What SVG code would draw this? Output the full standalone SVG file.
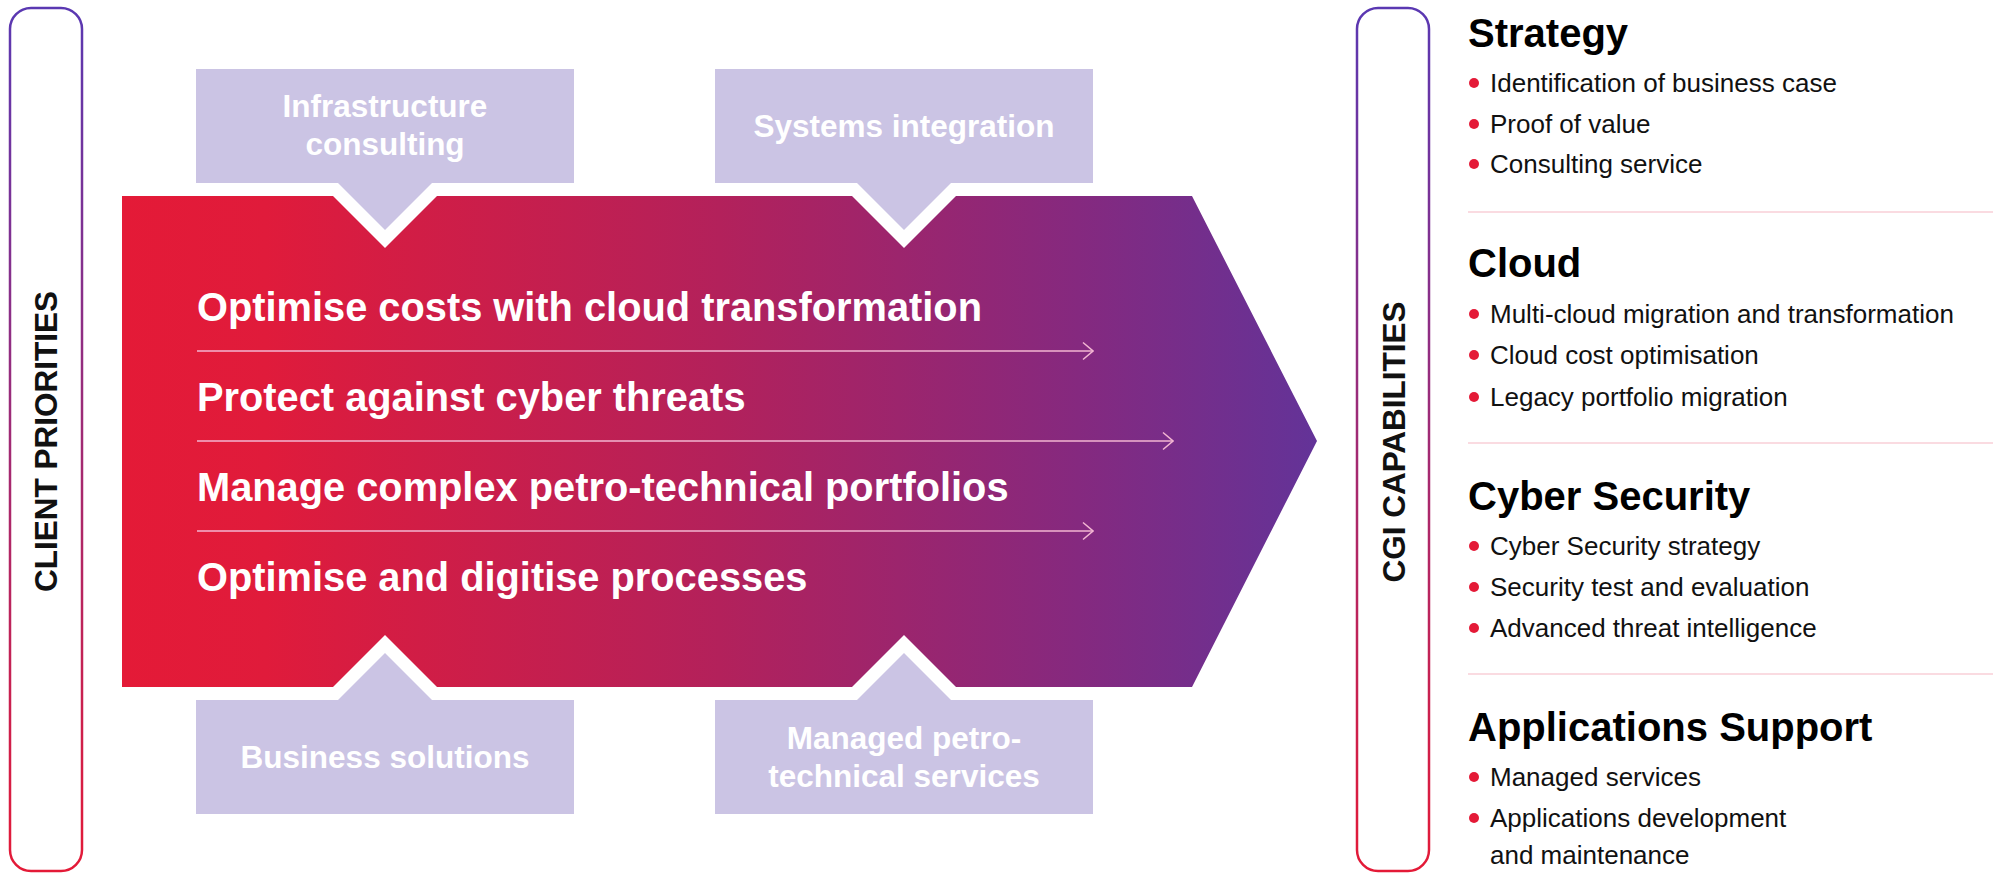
<svg xmlns="http://www.w3.org/2000/svg" width="1993" height="873" viewBox="0 0 1993 873">
  <defs>
    <linearGradient id="mainGrad" gradientUnits="userSpaceOnUse" x1="122" y1="0" x2="1317" y2="0">
      <stop offset="0" stop-color="#e41a37"/>
      <stop offset="0.12" stop-color="#e01b3b"/>
      <stop offset="0.5" stop-color="#b3215b"/>
      <stop offset="0.8" stop-color="#85297f"/>
      <stop offset="1" stop-color="#633398"/>
    </linearGradient>
    <linearGradient id="frameGrad" gradientUnits="userSpaceOnUse" x1="0" y1="8" x2="0" y2="871">
      <stop offset="0" stop-color="#5a38b2"/>
      <stop offset="0.5" stop-color="#a02a74"/>
      <stop offset="1" stop-color="#e41a37"/>
    </linearGradient>
    <marker id="chev" viewBox="0 0 12 20" refX="11" refY="10" markerWidth="12" markerHeight="20" markerUnits="userSpaceOnUse" orient="auto">
      <polyline points="1,1.5 11,10 1,18.5" fill="none" stroke="#f3b6d2" stroke-width="1.5"/>
    </marker>
    <style>
      .frame { fill: none; stroke: url(#frameGrad); stroke-width: 2.5; }
      .vlabel { font-family: "Liberation Sans", Arial, sans-serif; font-weight: bold; font-size: 31.5px; fill: #111; text-anchor: middle; }
      .callout { fill: #cbc4e4; }
      .ctext { font-family: "Liberation Sans", Arial, sans-serif; font-weight: bold; font-size: 31.5px; fill: #ffffff; text-anchor: middle; }
      .prio { font-family: "Liberation Sans", Arial, sans-serif; font-weight: bold; font-size: 39.8px; fill: #ffffff; }
      .flow { fill: none; stroke: #f3b6d2; stroke-width: 1.5; marker-end: url(#chev); }
      .head { font-family: "Liberation Sans", Arial, sans-serif; font-weight: bold; font-size: 40px; fill: #000; }
      .item { font-family: "Liberation Sans", Arial, sans-serif; font-size: 26px; fill: #111; }
      .dot { fill: #e41a37; }
      .divider { stroke: #fadbe1; stroke-width: 2; }
    </style>
  </defs>

  <g id="client-priorities">
    <rect class="frame" x="10" y="8" width="72" height="863" rx="21" ry="21"/>
    <text class="vlabel" transform="translate(57,441.5) rotate(-90)">CLIENT PRIORITIES</text>
  </g>

  <g id="main-arrow">
    <path fill="url(#mainGrad)" d="M122,196 L333,196 L385,248 L437,196 L852,196 L904,248 L956,196 L1192,196 L1317,441 L1192,687 L956,687 L904,635 L852,687 L437,687 L385,635 L333,687 L122,687 Z"/>
    <text class="prio" x="197" y="321">Optimise costs with cloud transformation</text>
    <text class="prio" x="197" y="411">Protect against cyber threats</text>
    <text class="prio" x="197" y="501">Manage complex petro-technical portfolios</text>
    <text class="prio" x="197" y="591">Optimise and digitise processes</text>
  </g>

  <g id="connectors">
    <line class="flow" x1="197" y1="351" x2="1093" y2="351"/>
    <line class="flow" x1="197" y1="441" x2="1173" y2="441"/>
    <line class="flow" x1="197" y1="531" x2="1093" y2="531"/>
  </g>

  <g id="infrastructure-consulting">
    <path class="callout" d="M196,69 L574,69 L574,183 L432,183 L385,230 L338,183 L196,183 Z"/>
    <text class="ctext" x="385" y="117">Infrastructure</text>
    <text class="ctext" x="385" y="155">consulting</text>
  </g>

  <g id="systems-integration">
    <path class="callout" d="M715,69 L1093,69 L1093,183 L951,183 L904,230 L857,183 L715,183 Z"/>
    <text class="ctext" x="904" y="137">Systems integration</text>
  </g>

  <g id="business-solutions">
    <path class="callout" d="M196,700 L338,700 L385,653 L432,700 L574,700 L574,814 L196,814 Z"/>
    <text class="ctext" x="385" y="768">Business solutions</text>
  </g>

  <g id="managed-petro-technical-services">
    <path class="callout" d="M715,700 L857,700 L904,653 L951,700 L1093,700 L1093,814 L715,814 Z"/>
    <text class="ctext" x="904" y="749">Managed petro-</text>
    <text class="ctext" x="904" y="787">technical services</text>
  </g>

  <g id="cgi-capabilities">
    <rect class="frame" x="1357" y="8" width="72" height="863" rx="21" ry="21"/>
    <text class="vlabel" transform="translate(1405,442) rotate(-90)">CGI CAPABILITIES</text>
  </g>

  <g id="strategy">
    <text class="head" x="1468" y="47">Strategy</text>
    <circle class="dot" cx="1474" cy="83" r="5"/>
    <text class="item" x="1490" y="92">Identification of business case</text>
    <circle class="dot" cx="1474" cy="124" r="5"/>
    <text class="item" x="1490" y="133">Proof of value</text>
    <circle class="dot" cx="1474" cy="164" r="5"/>
    <text class="item" x="1490" y="173">Consulting service</text>
    <line class="divider" x1="1468" y1="212" x2="1993" y2="212"/>
  </g>

  <g id="cloud">
    <text class="head" x="1468" y="277">Cloud</text>
    <circle class="dot" cx="1474" cy="314" r="5"/>
    <text class="item" x="1490" y="323">Multi-cloud migration and transformation</text>
    <circle class="dot" cx="1474" cy="355" r="5"/>
    <text class="item" x="1490" y="364">Cloud cost optimisation</text>
    <circle class="dot" cx="1474" cy="397" r="5"/>
    <text class="item" x="1490" y="406">Legacy portfolio migration</text>
    <line class="divider" x1="1468" y1="443" x2="1993" y2="443"/>
  </g>

  <g id="cyber-security">
    <text class="head" x="1468" y="510">Cyber Security</text>
    <circle class="dot" cx="1474" cy="546" r="5"/>
    <text class="item" x="1490" y="555">Cyber Security strategy</text>
    <circle class="dot" cx="1474" cy="587" r="5"/>
    <text class="item" x="1490" y="596">Security test and evaluation</text>
    <circle class="dot" cx="1474" cy="628" r="5"/>
    <text class="item" x="1490" y="637">Advanced threat intelligence</text>
    <line class="divider" x1="1468" y1="674" x2="1993" y2="674"/>
  </g>

  <g id="applications-support">
    <text class="head" x="1468" y="741">Applications Support</text>
    <circle class="dot" cx="1474" cy="777" r="5"/>
    <text class="item" x="1490" y="786">Managed services</text>
    <circle class="dot" cx="1474" cy="818" r="5"/>
    <text class="item" x="1490" y="827">Applications development</text>
    <text class="item" x="1490" y="864">and maintenance</text>
  </g>
</svg>
